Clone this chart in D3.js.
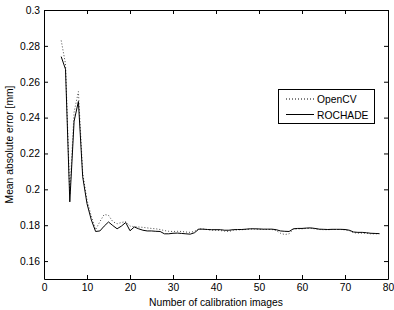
<!DOCTYPE html>
<html>
<head>
<meta charset="utf-8">
<script src="https://cdn.jsdelivr.net/npm/d3@7"></script>
<style>
  body { margin: 0; background: #fff; }
  text { font-family: "Liberation Sans", Arial, sans-serif; font-size: 10.3px; fill: #000; }
</style>
</head>
<body>
<svg id="chart" width="394" height="310"></svg>
<script>
var num_images = d3.range(4, 79);

var rochade_err = [
  0.274, 0.267, 0.193, 0.238, 0.249, 0.207, 0.192, 0.183, 0.1765, 0.1768,
  0.1795, 0.1818, 0.1798, 0.178, 0.1795, 0.1815, 0.1769, 0.179, 0.178, 0.1772,
  0.1768, 0.1768, 0.1766, 0.1765, 0.1752, 0.1752, 0.1755, 0.1756, 0.1754, 0.1752,
  0.175, 0.1758, 0.1778, 0.1778, 0.1776, 0.1775, 0.1775, 0.1775, 0.1772, 0.1772,
  0.1775, 0.1776, 0.1776, 0.1778, 0.178, 0.178, 0.1779, 0.1778, 0.1778, 0.1778,
  0.1775, 0.1768, 0.1766, 0.1765, 0.178, 0.1782, 0.1782, 0.1784, 0.1785, 0.1782,
  0.1778, 0.1777, 0.1776, 0.1777, 0.1777, 0.1777, 0.1776, 0.1772, 0.1762, 0.176,
  0.176, 0.1758, 0.1755, 0.1754, 0.1753
];

var opencv_err = [
  0.283, 0.270, 0.197, 0.243, 0.2545, 0.209, 0.194, 0.185, 0.1775, 0.182,
  0.186, 0.1855, 0.182, 0.1808, 0.1815, 0.182, 0.1795, 0.1792, 0.179, 0.1788,
  0.1785, 0.1782, 0.178, 0.1776, 0.177, 0.1766, 0.1765, 0.1766, 0.1765, 0.1762,
  0.176, 0.1766, 0.178, 0.1778, 0.1776, 0.1772, 0.1772, 0.177, 0.1767, 0.1765,
  0.1772, 0.1774, 0.1775, 0.1776, 0.1778, 0.1778, 0.1777, 0.1776, 0.1776, 0.1776,
  0.177, 0.1755, 0.1748, 0.1752, 0.1778, 0.178, 0.178, 0.1782, 0.1782, 0.178,
  0.1776, 0.1775, 0.1775, 0.1776, 0.1776, 0.1776, 0.1774, 0.177, 0.1758, 0.1756,
  0.1756, 0.1755, 0.1752, 0.1752, 0.1752
];

var x_ticks = [0, 10, 20, 30, 40, 50, 60, 70, 80];
var y_ticks = [0.16, 0.18, 0.2, 0.22, 0.24, 0.26, 0.28, 0.3];
var y_tick_labels = ["0.16", "0.18", "0.2", "0.22", "0.24", "0.26", "0.28", "0.3"];
var series_names = ["OpenCV", "ROCHADE"];

var plot_left = 44, plot_right = 388, plot_top = 10, plot_bottom = 279;

var svg = d3.select("#chart");
var x = d3.scaleLinear().domain([0, 80]).range([plot_left, plot_right]);
var y = d3.scaleLinear().domain([0.15, 0.3]).range([plot_bottom, plot_top]);

// axes (MATLAB style box with inward ticks)
var tick_len = 4;
svg.append("g").attr("transform", "translate(0," + plot_bottom + ")")
  .call(d3.axisBottom(x).tickValues(x_ticks).tickSizeInner(-tick_len).tickSizeOuter(0).tickPadding(5));
svg.append("g").attr("transform", "translate(0," + plot_top + ")")
  .call(d3.axisTop(x).tickValues(x_ticks).tickSizeInner(-tick_len).tickSizeOuter(0).tickFormat(""));
svg.append("g").attr("transform", "translate(" + plot_left + ",0)")
  .call(d3.axisLeft(y).tickValues(y_ticks).tickSizeInner(-tick_len).tickSizeOuter(0).tickPadding(4)
    .tickFormat(function(d, i) {return y_tick_labels[i];}));
svg.append("g").attr("transform", "translate(" + plot_right + ",0)")
  .call(d3.axisRight(y).tickValues(y_ticks).tickSizeInner(-tick_len).tickSizeOuter(0).tickFormat(""));

svg.selectAll(".domain").attr("stroke", "#000").attr("stroke-width", 1);
svg.selectAll(".tick line").attr("stroke", "#000");
svg.selectAll(".tick text").style("font-size", "10.3px").attr("font-family", null);

// lines
var line = d3.line()
  .x(function(d, i) {return x(num_images[i]);})
  .y(function(d) {return y(d);});

svg.append("path").datum(opencv_err)
  .attr("d", line).attr("fill", "none")
  .attr("stroke", "#333").attr("stroke-width", 0.9).attr("stroke-dasharray", "1,2");
svg.append("path").datum(rochade_err)
  .attr("d", line).attr("fill", "none")
  .attr("stroke", "#000").attr("stroke-width", 1);

// labels
svg.append("text").attr("x", (plot_left + plot_right) / 2).attr("y", 306)
  .attr("text-anchor", "middle").text("Number of calibration images");
svg.append("text").attr("transform", "translate(13," + ((plot_top + plot_bottom) / 2) + ") rotate(-90)")
  .attr("text-anchor", "middle").text("Mean absolute error [mm]");

// legend
var legend = svg.append("g");
legend.append("rect").attr("x", 278.5).attr("y", 89.5).attr("width", 96).attr("height", 34)
  .attr("fill", "#fff").attr("stroke", "#000").attr("stroke-width", 1);
var dashes = ["1,2", null];
series_names.forEach(function(name, i) {
  var ly = 99 + i * 15.5;
  legend.append("line").attr("x1", 286).attr("x2", 314).attr("y1", ly).attr("y2", ly)
    .attr("stroke", "#000").attr("stroke-width", 1).attr("stroke-dasharray", dashes[i]);
  legend.append("text").attr("x", 317).attr("y", ly + 4).text(name);
});
</script>
</body>
</html>
